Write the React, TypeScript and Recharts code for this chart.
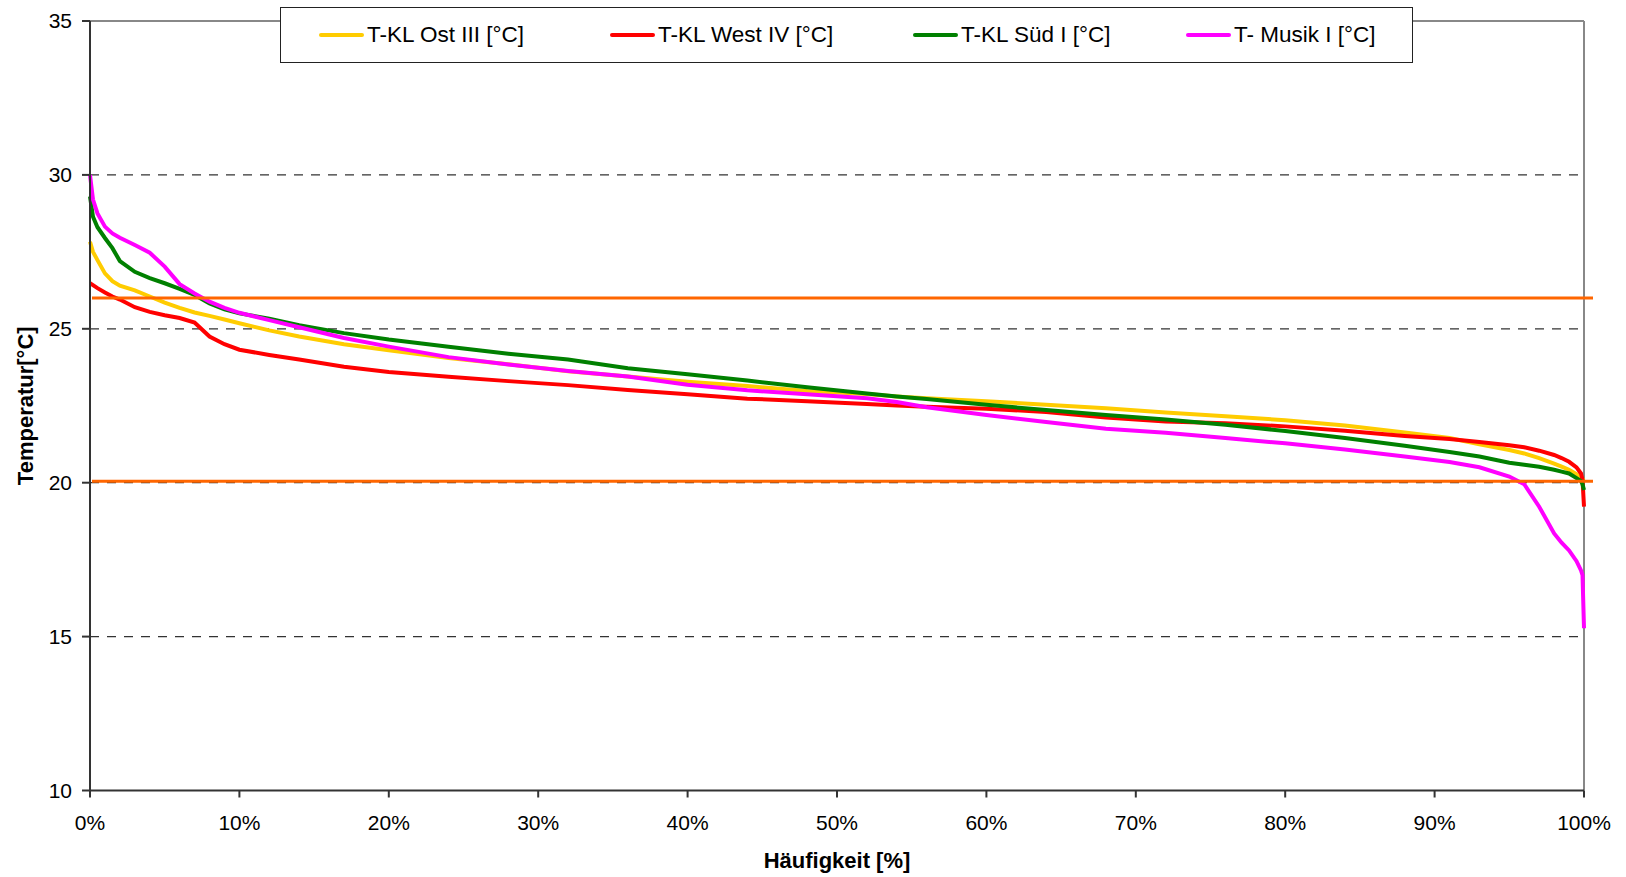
import { LineChart, Line, XAxis, YAxis, CartesianGrid, ReferenceLine, Label } from 'recharts';

// Häufigkeit [%] sample positions
const PCT = [0, 0.2, 0.5, 1, 1.5, 2, 3, 4, 5, 6, 7, 8, 9, 10, 12, 14, 17, 20, 24, 28, 32, 36, 40, 44, 48, 52, 54, 56, 60, 64, 68, 72, 76, 80, 84, 88, 91, 93, 95, 96, 97, 98, 98.5, 99, 99.5, 99.8, 99.9, 100];

const OST_III = [27.83, 27.5, 27.23, 26.8, 26.55, 26.4, 26.25, 26.05, 25.85, 25.68, 25.53, 25.42, 25.3, 25.18, 24.95, 24.75, 24.5, 24.3, 24.05, 23.85, 23.62, 23.45, 23.28, 23.14, 22.98, 22.88, 22.8, 22.74, 22.65, 22.53, 22.42, 22.28, 22.16, 22.03, 21.86, 21.63, 21.45, 21.25, 21.06, 20.95, 20.8, 20.62, 20.52, 20.42, 20.28, 20.18, 20.12, 20.08];
const WEST_IV = [26.48, 26.42, 26.32, 26.18, 26.05, 25.95, 25.7, 25.55, 25.44, 25.35, 25.2, 24.75, 24.5, 24.32, 24.15, 24.0, 23.77, 23.6, 23.44, 23.3, 23.17, 23.01, 22.87, 22.73, 22.65, 22.56, 22.51, 22.47, 22.4, 22.3, 22.12, 21.99, 21.93, 21.83, 21.69, 21.52, 21.42, 21.32, 21.22, 21.15, 21.04, 20.9, 20.8, 20.68, 20.5, 20.3, 20.1, 19.22];
const SUED_I = [29.3, 28.64, 28.3, 27.95, 27.62, 27.2, 26.85, 26.65, 26.48, 26.3, 26.1, 25.82, 25.63, 25.5, 25.33, 25.12, 24.86, 24.65, 24.42, 24.19, 24.0, 23.72, 23.52, 23.32, 23.1, 22.9, 22.8, 22.72, 22.53, 22.36, 22.2, 22.05, 21.88, 21.68, 21.45, 21.2, 21.0, 20.85, 20.65, 20.58, 20.52, 20.42, 20.36, 20.3, 20.15, 20.05, 19.95, 19.76];
const MUSIK_I = [30.0, 29.2, 28.75, 28.32, 28.1, 27.96, 27.72, 27.47, 27.02, 26.45, 26.15, 25.88, 25.68, 25.52, 25.28, 25.05, 24.7, 24.42, 24.08, 23.84, 23.63, 23.45, 23.18, 23.0, 22.87, 22.74, 22.62, 22.45, 22.2, 21.97, 21.75, 21.62, 21.45, 21.28, 21.08, 20.85, 20.67, 20.5, 20.2, 19.95, 19.22, 18.35, 18.05, 17.8, 17.45, 17.15, 17.0, 15.27];

const X_TICKS = [0, 10, 20, 30, 40, 50, 60, 70, 80, 90, 100];
const Y_TICKS = [10, 15, 20, 25, 30, 35];
const GRID_VALUES = [15, 20, 25, 30];
const LIMITS = [26, 20.05];

const SERIES = [
  { key: 'ost', name: 'T-KL Ost III [°C]', color: '#FFCC00' },
  { key: 'west', name: 'T-KL West IV [°C]', color: '#FF0000' },
  { key: 'sued', name: 'T-KL Süd I [°C]', color: '#008000' },
  { key: 'musik', name: 'T- Musik I [°C]', color: '#FF00FF' },
];

const rows = PCT.map((p, i) => ({
  p,
  ost: OST_III[i],
  west: WEST_IV[i],
  sued: SUED_I[i],
  musik: MUSIK_I[i],
}));

const FONT = '"Liberation Sans", Arial, sans-serif';
const LEGEND_WIDTHS = [291, 303, 273, 190];

// legend drawn as an overlay so it doesn't shrink the plot area
function LegendBox() {
  return (
    <div
      style={{
        position: 'absolute', left: 280, top: 7, width: 1133, height: 56, boxSizing: 'border-box',
        border: '1px solid #222', background: '#fff',
        display: 'flex', alignItems: 'center', paddingLeft: 38, fontFamily: FONT, fontSize: 22.5, color: '#000',
      }}
    >
      {SERIES.map((s, i) => (
        <div key={s.key} style={{ display: 'flex', alignItems: 'center', width: LEGEND_WIDTHS[i], whiteSpace: 'nowrap' }}>
          <span style={{ display: 'inline-block', width: 45, height: 4, background: s.color, borderRadius: 2 }} />
          <span style={{ marginLeft: 3 }}>{s.name}</span>
        </div>
      ))}
    </div>
  );
}

export default function App() {
  return (
    <div style={{ position: 'absolute', left: 0, top: 0, width: 1626, height: 877, background: '#fff' }}>
      <LineChart width={1626} height={877} data={rows} margin={{ top: 21, right: 42, bottom: 0, left: 0 }}>
        <CartesianGrid
          horizontal
          vertical={false}
          horizontalValues={GRID_VALUES}
          stroke="#333"
          strokeWidth={1.3}
          strokeDasharray="9 8"
        />
        <XAxis
          dataKey="p"
          type="number"
          domain={[0, 100]}
          ticks={X_TICKS}
          tickFormatter={(v: number) => `${v}%`}
          height={86.5}
          stroke="#333"
          strokeWidth={2}
          tickSize={7}
          tickMargin={18}
          tick={{ fill: '#000', fontSize: 21, fontFamily: FONT }}
          interval={0}
        >
          <Label
            content={({ viewBox }: any) => (
              <text x={viewBox.x + viewBox.width / 2} y={viewBox.y + 70} textAnchor="middle" dominantBaseline="central"
                fontFamily={FONT} fontSize={22} fontWeight="bold" fill="#000">Häufigkeit [%]</text>
            )}
          />
        </XAxis>
        <YAxis
          type="number"
          domain={[10, 35]}
          ticks={Y_TICKS}
          width={90}
          stroke="#333"
          strokeWidth={2}
          tickSize={8}
          tickMargin={10}
          tick={{ fill: '#000', fontSize: 21, fontFamily: FONT }}
          interval={0}
        >
          <Label
            content={({ viewBox }: any) => {
              const cx = 25;
              const cy = viewBox.y + viewBox.height / 2;
              return (
                <text x={cx} y={cy} transform={`rotate(-90, ${cx}, ${cy})`} textAnchor="middle" dominantBaseline="central"
                  fontFamily={FONT} fontSize={22} fontWeight="bold" fill="#000">Temperatur[°C]</text>
              );
            }}
          />
        </YAxis>
        <ReferenceLine y={35} stroke="#888" strokeWidth={2} />
        <ReferenceLine x={100} stroke="#888" strokeWidth={2} />
        {SERIES.map(s => (
          <Line
            key={s.key}
            type="linear"
            dataKey={s.key}
            name={s.name}
            stroke={s.color}
            strokeWidth={4}
            dot={false}
            isAnimationActive={false}
          />
        ))}
        {LIMITS.map(v => (
          <ReferenceLine
            key={v}
            y={v}
            stroke="#FF6600"
            strokeWidth={3}
            shape={(p: any) => <line x1={p.x1 + 2} y1={p.y1} x2={p.x2 + 9} y2={p.y2} stroke="#FF6600" strokeWidth={3} />}
          />
        ))}
      </LineChart>
      <LegendBox />
    </div>
  );
}
